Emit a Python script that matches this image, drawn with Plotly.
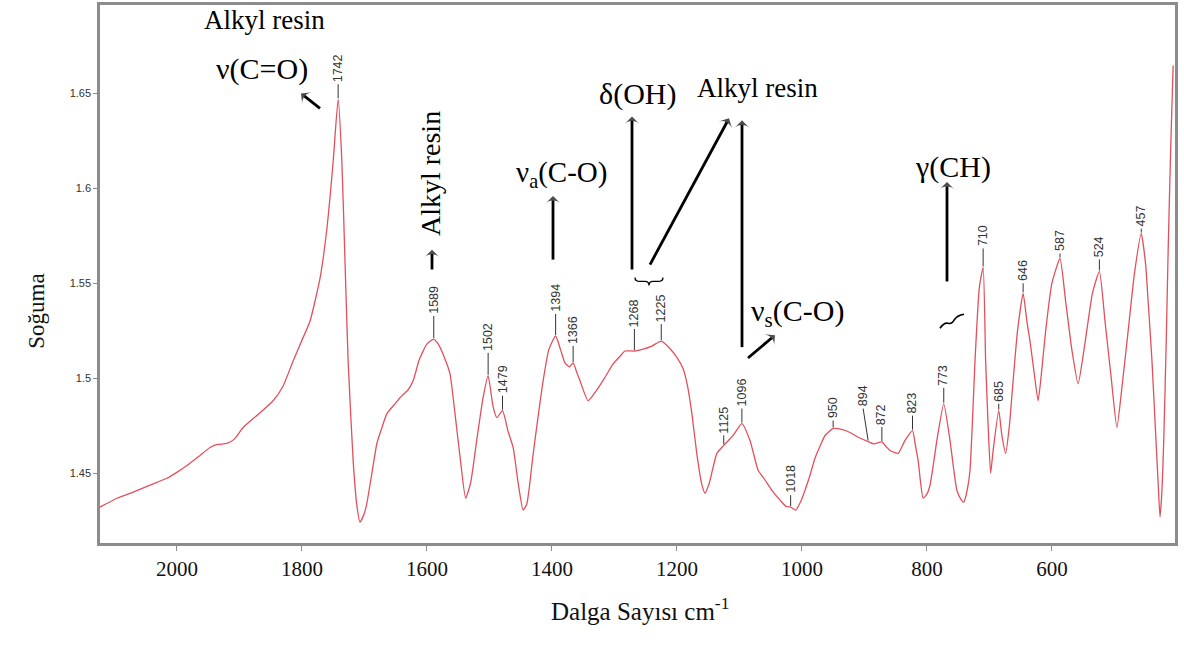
import numpy as np
import plotly.graph_objects as go

# ---------------- data ----------------
wavenumber = [2123, 2095, 2070, 2045, 2016, 2000, 1980, 1963, 1947, 1935, 1920, 1908, 1894, 1870, 1846,
              1830, 1814, 1800, 1787, 1771, 1760, 1750, 1742, 1736, 1731, 1726, 1718, 1712, 1707, 1700,
              1696, 1688, 1680, 1672, 1664, 1650, 1643, 1630, 1622, 1612, 1600, 1589, 1582, 1572, 1563,
              1555, 1546, 1538, 1530, 1520, 1510, 1502, 1494, 1488, 1479, 1470, 1462, 1454, 1446, 1440,
              1430, 1422, 1414, 1405, 1394, 1386, 1379, 1372, 1366, 1360, 1355, 1342, 1330, 1316, 1302,
              1290, 1283, 1268, 1254, 1240, 1225, 1212, 1200, 1190, 1183, 1176, 1168, 1160, 1155, 1148,
              1136, 1125, 1110, 1096, 1083, 1070, 1060, 1048, 1035, 1025, 1018, 1010, 1002, 995, 987,
              979, 970, 963, 950, 935, 923, 910, 896, 885, 872, 865, 859, 846, 835, 823,
              818, 814, 810, 806, 800, 795, 789, 784, 773, 763, 757, 752, 745, 741, 735,
              731, 727, 723, 716, 710, 706, 702, 698, 694, 685, 680, 674, 668, 662, 655,
              646, 640, 635, 628, 622, 616, 610, 600, 587, 578, 568, 558, 550, 542, 535,
              524, 515, 505, 496, 488, 478, 468, 457, 450, 446, 440, 435, 430, 427, 424,
              421, 417, 414, 410, 406]
absorbance = [1.4322, 1.4370, 1.4401, 1.4435, 1.4474, 1.4505, 1.4550, 1.4594, 1.4636, 1.4652, 1.4657, 1.4680, 1.4741, 1.4810, 1.4882,
              1.4960, 1.5092, 1.5200, 1.5301, 1.5526, 1.5788, 1.6139, 1.6470, 1.6139, 1.5615, 1.5092, 1.4568, 1.4330, 1.4243, 1.4290,
              1.4343, 1.4500, 1.4657, 1.4740, 1.4814, 1.4870, 1.4898, 1.4940, 1.4987, 1.5100, 1.5180, 1.5207, 1.5181, 1.5110, 1.5024,
              1.4814, 1.4560, 1.4369, 1.4450, 1.4680, 1.4900, 1.5013, 1.4850, 1.4793, 1.4830, 1.4720, 1.4636, 1.4450, 1.4306, 1.4340,
              1.4600, 1.4800, 1.4987, 1.5150, 1.5223, 1.5150, 1.5081, 1.5060, 1.5081, 1.5030, 1.4987, 1.4882, 1.4930, 1.5000, 1.5076,
              1.5120, 1.5144, 1.5144, 1.5154, 1.5170, 1.5196, 1.5160, 1.5110, 1.5050, 1.4960, 1.4814, 1.4600, 1.4440, 1.4395, 1.4450,
              1.4605, 1.4647, 1.4700, 1.4762, 1.4673, 1.4516, 1.4470, 1.4410, 1.4359, 1.4325, 1.4322, 1.4306, 1.4350, 1.4411, 1.4490,
              1.4579, 1.4650, 1.4699, 1.4736, 1.4730, 1.4715, 1.4690, 1.4670, 1.4655, 1.4665, 1.4640, 1.4620, 1.4605, 1.4673, 1.4725,
              1.4640, 1.4568, 1.4450, 1.4369, 1.4390, 1.4437, 1.4560, 1.4673, 1.4866, 1.4673, 1.4520, 1.4411, 1.4360, 1.4348, 1.4420,
              1.4516, 1.4780, 1.5092, 1.5480, 1.5584, 1.5092, 1.4750, 1.4500, 1.4620, 1.4830, 1.4700, 1.4605, 1.4750, 1.4987, 1.5250,
              1.5448, 1.5300, 1.5196, 1.5020, 1.4882, 1.5050, 1.5249, 1.5500, 1.5631, 1.5406, 1.5150, 1.4971, 1.5120, 1.5301, 1.5450,
              1.5563, 1.5301, 1.5000, 1.4741, 1.4950, 1.5249, 1.5550, 1.5762, 1.5600, 1.5406, 1.5100, 1.4777, 1.4450, 1.4270, 1.4400,
              1.4673, 1.5200, 1.5668, 1.6200, 1.6647]

peak_labels = ["1742", "1589", "1502", "1479", "1394", "1366", "1268", "1225", "1125", "1096", "1018",
               "950", "894", "872", "823", "773", "710", "685", "646", "587", "524", "457"]
peak_positions = [1742, 1589, 1502, 1479, 1394, 1366, 1268, 1225, 1125, 1096, 1018,
                  950, 894, 872, 823, 773, 710, 685, 646, 587, 524, 457]

x_ticks = [2000, 1800, 1600, 1400, 1200, 1000, 800, 600]
y_ticks = [1.45, 1.5, 1.55, 1.6, 1.65]

band_texts = ["Alkyl resin", "ν(C=O)", "Alkyl resin", "ν<sub>a</sub>(C-O)", "δ(OH)",
              "Alkyl resin", "ν<sub>s</sub>(C-O)", "γ(CH)"]

# ---------------- styling / layout positions ----------------
leader_px = [15, 23, 23, 15, 22, 17, 22, 17, 10, 15, 12, 8, 33, 15, 15, 16, 19, 7, 10, 5, 12, 5]
leader_dx = {"894": -5}
band_pos = [(264, 17, 0, 27), (262, 66, 0, 30), (430, 172, -90, 28), (561, 172, 0, 29),
            (637, 91, 0, 30), (757, 85, 0, 27), (797, 312, 0, 30), (953, 165, 0, 30)]
arrows = [((301, 91), (320, 106)), ((432, 248), (432, 268)), ((553, 194), (553, 258)),
          ((632, 114), (632, 268)), ((729, 116), (650, 263)), ((742, 118), (742, 346)),
          ((775, 334), (748, 357)), ((947, 180), (947, 280))]

W, H = 1184, 650
L, R, T, B = 100, 1175, 2, 543
XR = [2123, 403]
YR = [1.4133, 1.6966]
SERIF = "Liberation Serif, Times New Roman, serif"
SANS = "Liberation Sans, Arial, sans-serif"


def px(x):
    return (x - L) / (R - L)


def py(y):
    return (B - y) / (B - T)


def xd(x):
    return XR[0] + px(x) * (XR[1] - XR[0])


def yd(y):
    return YR[0] + py(y) * (YR[1] - YR[0])


fig = go.Figure()
fig.add_trace(go.Scatter(x=wavenumber, y=absorbance, mode="lines",
                         line=dict(color="#e2505c", width=1.3, shape="spline", smoothing=0.5),
                         hoverinfo="skip", showlegend=False))

# arrows (shaft + head marker oriented along the segment)
for (hx, hy), (tx, ty) in arrows:
    fig.add_trace(go.Scatter(x=[xd(tx), xd(hx)], y=[yd(ty), yd(hy)], mode="lines+markers",
                             line=dict(color="black", width=2.8),
                             marker=dict(symbol=["circle", "arrow-wide"], size=[0, 11], color="black",
                                         angleref="previous", line=dict(width=0)),
                             hoverinfo="skip", showlegend=False, cliponaxis=False))

wn_rev = np.array(wavenumber[::-1], dtype=float)
ab_rev = np.array(absorbance[::-1], dtype=float)
shapes = []
annotations = []
for lab, pos, lpx in zip(peak_labels, peak_positions, leader_px):
    h = float(np.interp(pos, wn_rev, ab_rev))
    dx = leader_dx.get(lab, 0)
    shapes.append(dict(type="line", xref="x", yref="y", xsizemode="pixel", ysizemode="pixel",
                       xanchor=pos, yanchor=h, x0=0, x1=dx, y0=1, y1=lpx,
                       line=dict(color="#333333", width=1)))
    annotations.append(dict(x=pos, y=h, xref="x", yref="y", text=lab, showarrow=False,
                            textangle=-90, xanchor="center", yanchor="bottom",
                            yshift=lpx, xshift=dx,
                            font=dict(family=SANS, size=12.5, color="#333333")))

for t, (x, y, ang, sz) in zip(band_texts, band_pos):
    annotations.append(dict(x=px(x), y=py(y), xref="paper", yref="paper", text=t, showarrow=False,
                            textangle=ang, xanchor="center", yanchor="middle",
                            font=dict(family=SERIF, size=sz, color="black")))

# small horizontal brace and squiggle marks
shapes.append(dict(type="path", xref="x", yref="y", xsizemode="pixel", ysizemode="pixel",
                   xanchor=xd(649), yanchor=yd(280),
                   path="M -14,4 Q -14,0 -9,0 L -4,0 Q 0,0 0,-4 Q 0,0 4,0 L 9,0 Q 14,0 14,4",
                   line=dict(color="black", width=1.3)))
shapes.append(dict(type="path", xref="x", yref="y", xsizemode="pixel", ysizemode="pixel",
                   xanchor=xd(952), yanchor=yd(320),
                   path="M -12,-7 Q -8,-1 -4,-2 Q 0,-3 2,1 Q 5,6 12,7",
                   line=dict(color="black", width=1.6)))

# axis titles
annotations.append(dict(x=px(640), y=py(627), xref="paper", yref="paper",
                        text="Dalga Sayısı cm<sup>-1</sup>", showarrow=False,
                        font=dict(family=SERIF, size=25, color="#111111")))
annotations.append(dict(x=px(22), y=py(310), xref="paper", yref="paper", text="Soğuma",
                        showarrow=False, textangle=-90,
                        font=dict(family=SERIF, size=23, color="#111111")))

fig.update_layout(
    width=W, height=H,
    margin=dict(l=L, r=W - R, t=T, b=H - B),
    paper_bgcolor="white", plot_bgcolor="white",
    shapes=shapes, annotations=annotations,
    xaxis=dict(range=XR, tickvals=x_ticks, ticktext=[str(v) for v in x_ticks],
               showgrid=False, zeroline=False, showline=True, linecolor="#8c8c8c", linewidth=2.5,
               mirror=True, ticks="outside", ticklen=5, tickcolor="#8c8c8c", tickwidth=1,
               tickfont=dict(family=SERIF, size=21, color="#111111")),
    yaxis=dict(range=YR, tickvals=y_ticks, ticktext=[f"{v:g}" for v in y_ticks],
               showgrid=False, zeroline=False, showline=True, linecolor="#8c8c8c", linewidth=2.5,
               mirror=True, ticks="outside", ticklen=4, tickcolor="#8c8c8c", tickwidth=1,
               tickfont=dict(family=SANS, size=11, color="#333333")),
)

fig.write_html("out.html")
